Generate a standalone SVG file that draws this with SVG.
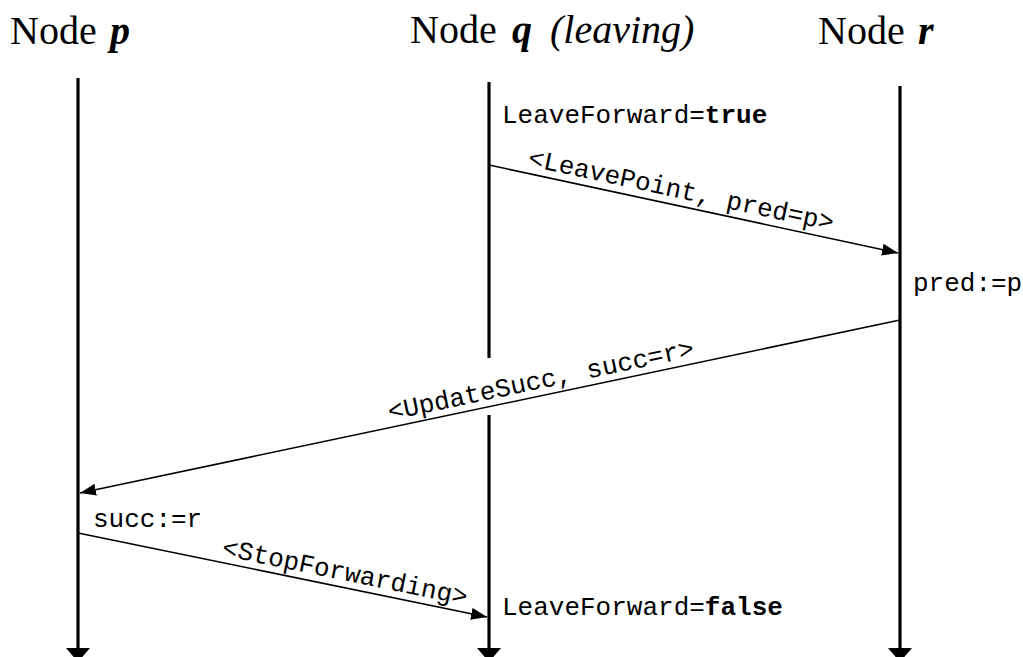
<svg xmlns="http://www.w3.org/2000/svg" width="1023" height="657" viewBox="0 0 1023 657">
<style>
.title{font-family:"Liberation Serif",serif;font-size:40px;fill:#000}
.var{font-weight:bold;font-style:italic}
.it{font-style:italic}
.life{stroke:#000;stroke-width:3.2;fill:none}
.msg{stroke:#000;stroke-width:1.6;fill:none;marker-end:url(#ah)}
.lbl{font-family:"Liberation Mono",monospace;font-size:26px;fill:#000}
</style>
<defs>
<marker id="ah" viewBox="0 0 16 12" refX="16" refY="6" markerWidth="16" markerHeight="12" markerUnits="userSpaceOnUse" orient="auto">
<path d="M0,0 L16,6 L0,12 z" fill="#000"/>
</marker>
<marker id="lh" viewBox="0 0 14 24" refX="0" refY="12" markerWidth="14" markerHeight="24" markerUnits="userSpaceOnUse" orient="auto">
<path d="M0,0 L14,12 L0,24 z" fill="#000"/>
</marker>
</defs>
<g id="node-p">
<text class="title" x="10" y="44">Node <tspan class="var" x="110">p</tspan></text>
<line class="life" x1="78" y1="78" x2="78" y2="648" marker-end="url(#lh)"/>
</g>
<g id="node-q">
<text class="title" x="410" y="43">Node <tspan class="var" x="512">q</tspan> <tspan class="it" x="550">(leaving)</tspan></text>
<line class="life" x1="489" y1="82" x2="489" y2="358"/>
<line class="life" x1="489" y1="415" x2="489" y2="648" marker-end="url(#lh)"/>
<text class="lbl" x="502" y="123">LeaveForward=<tspan font-weight="bold">true</tspan></text>
<text class="lbl" x="502" y="615">LeaveForward=<tspan font-weight="bold">false</tspan></text>
</g>
<g id="node-r">
<text class="title" x="818" y="44">Node <tspan class="var" x="918">r</tspan></text>
<line class="life" x1="900" y1="86" x2="900" y2="648" marker-end="url(#lh)"/>
<text class="lbl" x="913" y="291">pred:=p</text>
</g>
<g id="node-p-state">
<text class="lbl" x="93" y="527">succ:=r</text>
</g>
<g id="connectors">
<line class="msg" x1="489" y1="165" x2="898" y2="253"/>
<text class="lbl" text-anchor="middle" transform="translate(678,205) rotate(12.08)" x="0" y="-7">&lt;LeavePoint, pred=p&gt;</text>
<line class="msg" x1="900" y1="320" x2="80" y2="493"/>
<text class="lbl" text-anchor="middle" transform="translate(544,395) rotate(-11.88)" x="0" y="-7">&lt;UpdateSucc, succ=r&gt;</text>
<line class="msg" x1="78" y1="533" x2="487" y2="617"/>
<text class="lbl" text-anchor="middle" transform="translate(342,587) rotate(11.55)" x="0" y="-7">&lt;StopForwarding&gt;</text>
</g>
</svg>
